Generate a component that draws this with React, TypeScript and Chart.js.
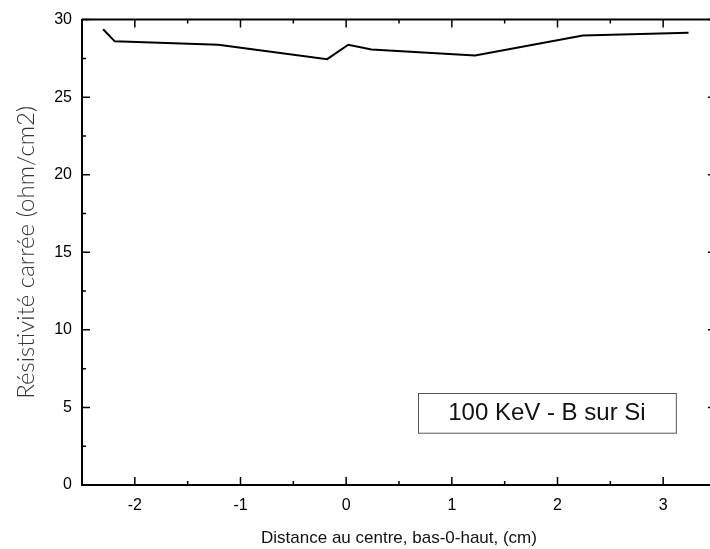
import React, { useEffect, useRef } from "react";
import { Chart, registerables } from "chart.js";

Chart.register(...registerables);

// Data
const distances = [-2.3, -2.19, -1.21, -0.18, 0.02, 0.24, 1.22, 2.24, 3.24];
const resistivity = [29.38, 28.6, 28.38, 27.45, 28.38, 28.08, 27.68, 28.98, 29.15];

const xMajorTicks = [-2, -1, 0, 1, 2, 3];
const xMinorTicks = [-1.5, -0.5, 0.5, 1.5, 2.5];
const yMajorTicks = [0, 5, 10, 15, 20, 25, 30];
const yMinorTicks = [2.5, 7.5, 12.5, 17.5, 22.5, 27.5];

const xTitle = "Distance au centre, bas-0-haut, (cm)";
const yTitle = "Résistivité carrée (ohm/cm2)";
const boxLabel = "100 KeV - B sur Si";

const X_MIN = -2.5;
const X_MAX = 3.5;
const Y_MIN = 0;
const Y_MAX = 30;

const FONT = "'Liberation Sans', Arial, Helvetica, sans-serif";

const framePlugin = {
  id: "frameTicks",
  afterDraw(chart: any) {
    const ctx = chart.ctx;
    const { left, right, top, bottom } = chart.chartArea;
    const xs = chart.scales.x;
    const ys = chart.scales.y;
    ctx.save();
    ctx.strokeStyle = "#000";
    // top and right frame lines
    ctx.lineWidth = 2;
    ctx.beginPath();
    ctx.moveTo(left, top);
    ctx.lineTo(right, top);
    ctx.moveTo(right, top);
    ctx.lineTo(right, bottom);
    ctx.stroke();
    // ticks pointing inward
    ctx.lineWidth = 1.5;
    ctx.beginPath();
    const drawX = (v: number, len: number) => {
      const p = xs.getPixelForValue(v);
      ctx.moveTo(p, bottom);
      ctx.lineTo(p, bottom - len);
      ctx.moveTo(p, top);
      ctx.lineTo(p, top + len);
    };
    const drawY = (v: number, len: number) => {
      const p = ys.getPixelForValue(v);
      ctx.moveTo(left, p);
      ctx.lineTo(left + len, p);
      ctx.moveTo(right, p);
      ctx.lineTo(right - len, p);
    };
    xMajorTicks.forEach((v) => drawX(v, 8));
    xMinorTicks.forEach((v) => drawX(v, 4));
    yMajorTicks.forEach((v) => drawY(v, 8));
    yMinorTicks.forEach((v) => drawY(v, 4));
    ctx.stroke();

    // annotation box
    const bx1 = xs.getPixelForValue(0.68);
    const bx2 = xs.getPixelForValue(3.12);
    const by1 = ys.getPixelForValue(5.96);
    const by2 = ys.getPixelForValue(3.4);
    ctx.lineWidth = 1;
    ctx.strokeStyle = "#555";
    ctx.strokeRect(Math.round(bx1) + 0.5, Math.round(by1) + 0.5, bx2 - bx1, by2 - by1);
    ctx.fillStyle = "#111";
    ctx.font = "24px " + FONT;
    ctx.textAlign = "center";
    ctx.textBaseline = "middle";
    ctx.fillText(boxLabel, (bx1 + bx2) / 2, (by1 + by2) / 2 + 1);
    ctx.restore();
  },
};

export default function App() {
  const canvasRef = useRef<HTMLCanvasElement | null>(null);

  useEffect(() => {
    if (!canvasRef.current) return;
    const chart = new Chart(canvasRef.current, {
      type: "line",
      data: {
        datasets: [
          {
            data: distances.map((x, i) => ({ x, y: resistivity[i] })),
            borderColor: "#000",
            borderWidth: 2,
            pointRadius: 0,
            tension: 0,
            fill: false,
          },
        ],
      },
      options: {
        responsive: false,
        animation: false,
        layout: { padding: { top: 17, right: 14, left: 0, bottom: 0 } },
        plugins: { legend: { display: false }, tooltip: { enabled: false } },
        scales: {
          x: {
            type: "linear",
            min: X_MIN,
            max: X_MAX,
            afterBuildTicks: (scale: any) => {
              scale.ticks = xMajorTicks.map((v) => ({ value: v }));
            },
            afterFit: (scale: any) => {
              scale.height = 64;
            },
            grid: { display: false, drawTicks: false },
            border: { display: true, color: "#000", width: 2 },
            ticks: {
              color: "#000",
              padding: 11,
              maxRotation: 0,
              autoSkip: false,
              font: { family: FONT, size: 16 },
              callback: (v: any) => String(v),
            },
            title: {
              display: true,
              text: xTitle,
              color: "#111",
              font: { family: FONT, size: 17 },
              padding: { top: 11, bottom: 0 },
            },
          },
          y: {
            type: "linear",
            min: Y_MIN,
            max: Y_MAX,
            afterBuildTicks: (scale: any) => {
              scale.ticks = yMajorTicks.map((v) => ({ value: v }));
            },
            afterFit: (scale: any) => {
              scale.width = 82;
            },
            grid: { display: false, drawTicks: false },
            border: { display: true, color: "#000", width: 2 },
            ticks: {
              color: "#000",
              padding: 10,
              autoSkip: false,
              font: { family: FONT, size: 16 },
            },
            title: {
              display: true,
              text: yTitle,
              color: "#333",
              font: { family: "Lato, " + FONT, size: 24, weight: "300" },
              padding: { top: 12, bottom: 0 },
            },
          },
        },
      },
      plugins: [framePlugin],
    });
    return () => chart.destroy();
  }, []);

  return (
    <div
      style={{
        position: "absolute",
        left: 0,
        top: 0,
        width: 710,
        height: 549,
        overflow: "hidden",
        background: "#fff",
      }}
    >
      <canvas ref={canvasRef} width={730} height={549} style={{ display: "block" }} />
    </div>
  );
}
